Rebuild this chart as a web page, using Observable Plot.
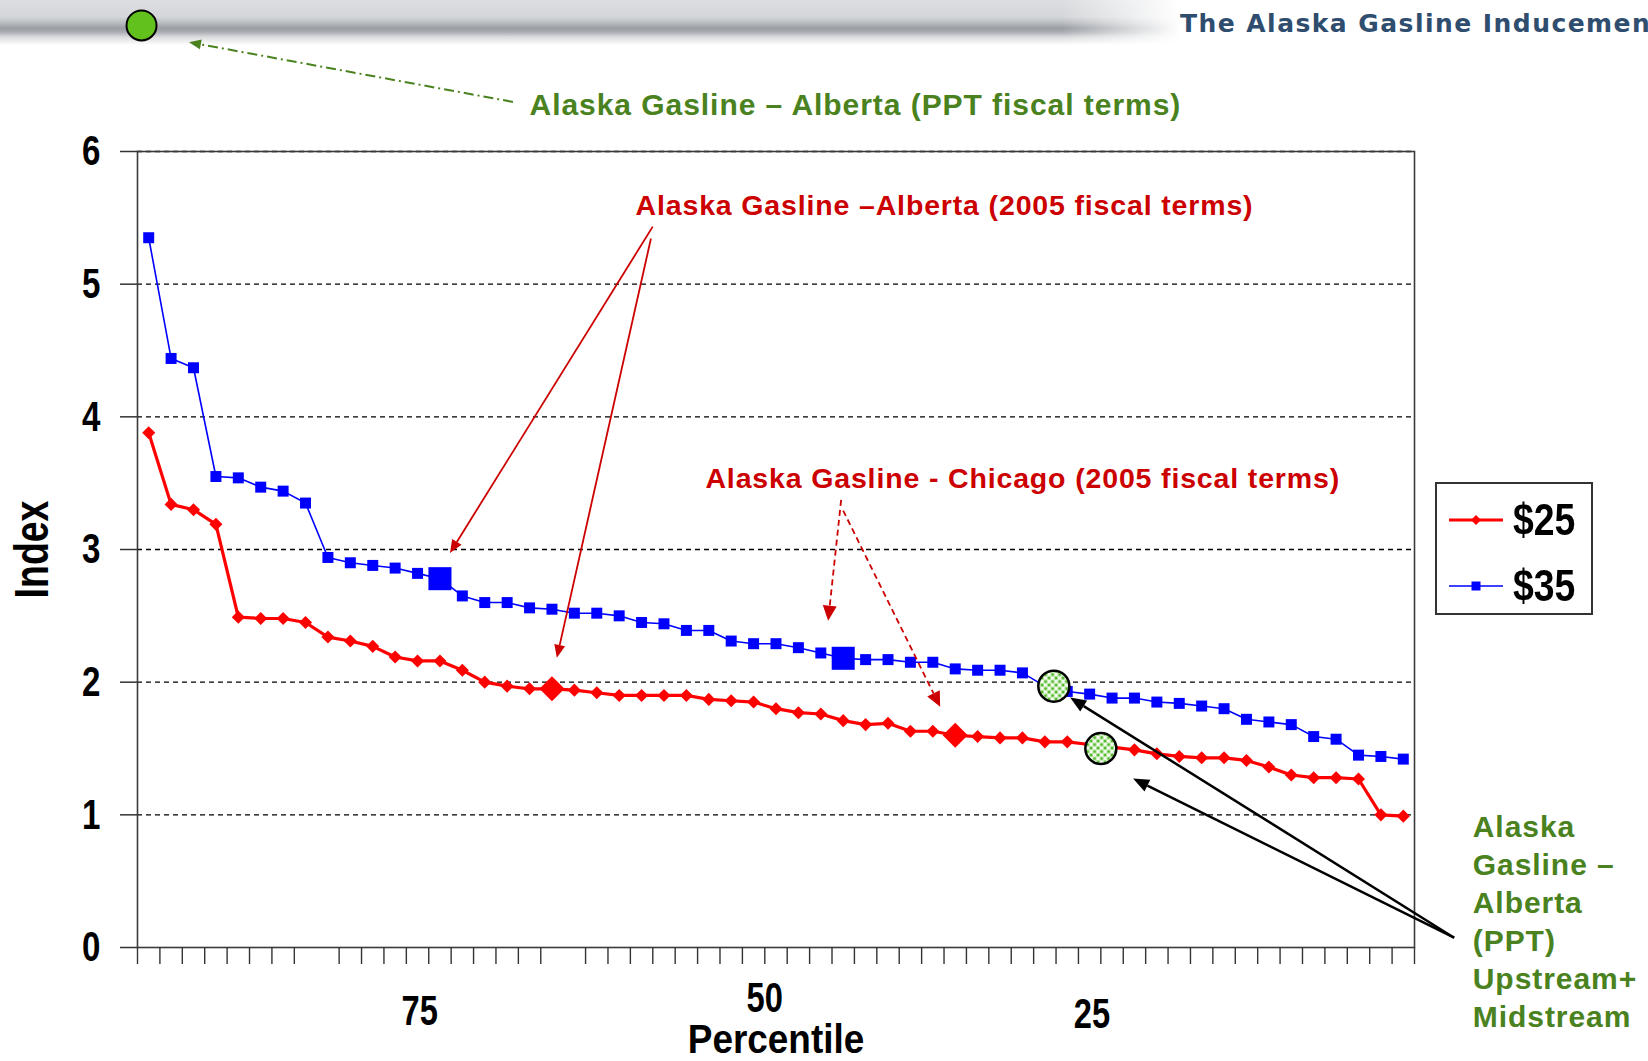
<!DOCTYPE html>
<html>
<head>
<meta charset="utf-8">
<script src="https://cdn.jsdelivr.net/npm/d3@7"></script>
<script src="https://cdn.jsdelivr.net/npm/@observablehq/plot@0.6"></script>
<style>
  html, body { margin: 0; padding: 0; background: #fff; }
  #page { position: relative; width: 1648px; height: 1061px; overflow: hidden; background: #fff; }
  #band {
    position: absolute; left: 0; top: 0; width: 1180px; height: 46px;
    background: linear-gradient(to bottom, #dcdee1 0px, #d4d6d9 17px, #b8bbc0 23px, #9b9fa5 28px, #a9adb2 32px, #d9dbdd 37px, #fff 45px);
    -webkit-mask-image: linear-gradient(to right, #000 0%, #000 90%, transparent 100%);
    mask-image: linear-gradient(to right, #000 0%, #000 90%, transparent 100%);
  }
  #logo {
    position: absolute; left: 1180px; top: 9px; white-space: nowrap;
    font: bold 25px "DejaVu Sans", sans-serif; color: #2f4d6e; letter-spacing: 1.45px;
  }
  #chart { position: absolute; left: 0; top: 0; }
  #legend {
    position: absolute; left: 1435px; top: 482px; width: 154px; height: 129px;
    border: 2px solid #333; background: #fff; box-sizing: content-box;
  }
  #legend .row { position: absolute; left: 10px; height: 50px; display: flex; align-items: center; }
  #legend .row span {
    display: inline-block; transform: scaleX(0.83); transform-origin: left center;
    font: bold 45px "Liberation Sans", Arial, sans-serif; color: #000; margin-left: 8px;
  }
  g[aria-description="red callout"] text { letter-spacing: 0.85px; }
  g[aria-description="green callout"] text { letter-spacing: 0.95px; }
</style>
</head>
<body>
<div id="page">
  <div id="band"></div>
  <div id="logo">The Alaska Gasline Inducement Act</div>
  <div id="chart"></div>
  <div id="legend"></div>
</div>
<script>
// Index by percentile rank, one value per case, sorted high to low
const seriesNames = ["$25", "$35"];
const series25 = [3.88, 3.34, 3.30, 3.19, 2.49, 2.48, 2.48, 2.45, 2.34, 2.31, 2.27, 2.19, 2.16, 2.16, 2.09,
  2.00, 1.97, 1.95, 1.95, 1.94, 1.92, 1.90, 1.90, 1.90, 1.90, 1.87, 1.86, 1.85, 1.80, 1.77, 1.76, 1.71,
  1.68, 1.69, 1.63, 1.63, 1.60, 1.59, 1.58, 1.58, 1.55, 1.55, 1.53, 1.51, 1.49, 1.46, 1.44, 1.43, 1.43,
  1.41, 1.36, 1.30, 1.28, 1.28, 1.27, 1.00, 0.99];
const series35 = [5.35, 4.44, 4.37, 3.55, 3.54, 3.47, 3.44, 3.35, 2.94, 2.90, 2.88, 2.86, 2.82, 2.78, 2.65,
  2.60, 2.60, 2.56, 2.55, 2.52, 2.52, 2.50, 2.45, 2.44, 2.39, 2.39, 2.31, 2.29, 2.29, 2.26, 2.22, 2.18,
  2.17, 2.17, 2.15, 2.15, 2.10, 2.09, 2.09, 2.07, 1.97, 1.93, 1.91, 1.88, 1.88, 1.85, 1.84, 1.82, 1.80,
  1.72, 1.70, 1.68, 1.59, 1.57, 1.45, 1.44, 1.42];

// Rank of the Alaska Gasline cases on each price curve
const alberta2005 = {"$25": 18, "$35": 13};
const chicago2005 = {"$25": 36, "$35": 31};
// Alaska Gasline – Alberta under PPT terms (upstream + midstream)
const pptRank = [40.4, 42.5];
const pptIndex = [1.97, 1.50];

const yTicks = [0, 1, 2, 3, 4, 5, 6];
const gridValues = [1, 2, 3, 4, 5, 6];
const percentileLabels = ["75", "50", "25"];

const RED = "#ff0000", BLUE = "#0000ff", DARKRED = "#cc0000", GREEN = "#4a8220";
const SANS = '"Liberation Sans", Arial, sans-serif';

const rows25 = series25.map((value, rank) => ({rank, value}));
const rows35 = series35.map((value, rank) => ({rank, value}));
// category boundaries carry the x tick marks (two are left blank on the axis)
const boundaries = d3.range(series25.length + 1).map(k => k - 0.5).filter(b => b !== 7.5 && b !== 18.5);

// dotted fill for the PPT circles
function dotPattern() {
  const defs = d3.create("svg:defs");
  const p = defs.append("pattern").attr("id", "ppt-dots").attr("patternUnits", "userSpaceOnUse")
    .attr("width", 7).attr("height", 7);
  p.append("rect").attr("width", 7).attr("height", 7).attr("fill", "#f3faee");
  p.append("rect").attr("x", 0.6).attr("y", 0.6).attr("width", 3).attr("height", 3).attr("fill", "#4fba25");
  p.append("rect").attr("x", 4.1).attr("y", 4.1).attr("width", 3).attr("height", 3).attr("fill", "#4fba25");
  return defs.node();
}

// straight callout arrows with filled triangular heads
function callouts(list, {stroke, width = 2, dash = null, head = [12, 10]}) {
  return (index, scales) => {
    const sx = typeof scales.x === "function" ? scales.x : scales.scales.x.apply;
    const sy = typeof scales.y === "function" ? scales.y : scales.scales.y.apply;
    const g = d3.create("svg:g");
    for (const a of list) {
      const x1 = sx(a.from[0]), y1 = sy(a.from[1]), x2 = sx(a.to[0]), y2 = sy(a.to[1]);
      const ang = Math.atan2(y2 - y1, x2 - x1);
      const [L, W] = head;
      const bx = x2 - L * Math.cos(ang), by = y2 - L * Math.sin(ang);
      const ox = (W / 2) * Math.sin(ang), oy = (W / 2) * Math.cos(ang);
      g.append("line").attr("x1", x1).attr("y1", y1).attr("x2", bx).attr("y2", by)
        .attr("stroke", stroke).attr("stroke-width", width)
        .attr("stroke-dasharray", dash);
      g.append("path").attr("d", `M${x2},${y2}L${bx + ox},${by - oy}L${bx - ox},${by + oy}Z`).attr("fill", stroke);
    }
    return g.node();
  };
}

// axis text is set in a condensed bold face: "narrow <horizontal scale>"
const axisText = {fontWeight: "bold", fill: "#000"};

const plot = Plot.plot({
  width: 1648,
  height: 1061,
  marginLeft: 137,
  marginRight: 234,
  marginTop: 151,
  marginBottom: 114,
  x: {domain: [-0.5, series25.length - 0.5]},
  y: {domain: [0, 6]},
  style: {background: "transparent", overflow: "visible", fontFamily: SANS},
  marks: [
    dotPattern,
    Plot.ruleY(gridValues, {stroke: "#000", strokeWidth: 1.3, strokeDasharray: "5,4"}),
    Plot.frame({stroke: "#3a3a3a", strokeWidth: 1.6}),
    Plot.axisY({ticks: yTicks, tickSize: 17, label: null, stroke: "#333", strokeWidth: 1.5, tickFormat: () => ""}),
    Plot.axisX({ticks: boundaries, tickSize: 17, label: null, stroke: "#333", strokeWidth: 1.4, tickFormat: () => ""}),
    Plot.text(yTicks, {y: d => d, frameAnchor: "left", dx: -37, textAnchor: "end", text: d => String(d),
      fontSize: 43, ...axisText, ariaDescription: "narrow 0.77"}),
    // percentile labels and axis titles
    Plot.text(percentileLabels, {x: [12.1, 27.5, 42.1], y: [-0.48, -0.38, -0.5], text: d => d,
      fontSize: 43, ...axisText, ariaDescription: "narrow 0.76"}),
    Plot.text(["Percentile"], {frameAnchor: "bottom", dy: 92, lineAnchor: "middle", textAnchor: "middle", text: d => d,
      fontSize: 41, ...axisText, ariaDescription: "narrow 0.9"}),
    Plot.text(["Index"], {frameAnchor: "left", dx: -105, rotate: -90, textAnchor: "middle", lineAnchor: "middle",
      text: d => d, fontSize: 48, ...axisText, ariaDescription: "narrow 0.78"}),

    // price curves
    Plot.line(rows35, {x: "rank", y: "value", stroke: BLUE, strokeWidth: 1.6}),
    Plot.dot(rows35, {x: "rank", y: "value", symbol: "square", r: 6.2, fill: BLUE}),
    Plot.line(rows25, {x: "rank", y: "value", stroke: RED, strokeWidth: 3.2}),
    Plot.dot(rows25, {x: "rank", y: "value", symbol: "diamond2", r: 5.9, fill: RED}),

    // Alaska Gasline 2005-terms cases, enlarged on each curve
    Plot.dot([alberta2005["$35"], chicago2005["$35"]], {x: d => d, y: d => series35[d], symbol: "square", r: 13, fill: BLUE}),
    Plot.dot([alberta2005["$25"], chicago2005["$25"]], {x: d => d, y: d => series25[d], symbol: "diamond2", r: 11.3, fill: RED}),

    // PPT cases
    Plot.dot(pptRank, {x: d => d, y: (d, i) => pptIndex[i], r: 15.5, fill: "url(#ppt-dots)", stroke: "#000", strokeWidth: 2.5}),

    // key for the PPT case
    Plot.dot([{x: -0.32, y: 6.95}], {x: "x", y: "y", r: 15, fill: "#62c11c", stroke: "#000", strokeWidth: 2}),
    callouts([{from: [16.28, 6.37], to: [1.82, 6.82]}], {stroke: GREEN, width: 2, dash: "10,4,2,4", head: [12, 10]}),
    Plot.text(["Alaska Gasline – Alberta (PPT fiscal terms)"], {x: 17.0, y: 6.35, text: d => d, textAnchor: "start",
      fill: GREEN, fontSize: 30, fontWeight: "bold", ariaDescription: "green callout"}),

    // 2005-terms callouts
    Plot.text(["Alaska Gasline –Alberta (2005 fiscal terms)"], {x: 21.73, y: 5.59, text: d => d, textAnchor: "start",
      fill: DARKRED, fontSize: 28.5, fontWeight: "bold", ariaDescription: "red callout"}),
    Plot.text(["Alaska Gasline - Chicago (2005 fiscal terms)"], {x: 24.85, y: 3.53, text: d => d, textAnchor: "start",
      fill: DARKRED, fontSize: 28.5, fontWeight: "bold", ariaDescription: "red callout"}),
    callouts([
      {from: [22.52, 5.43], to: [13.47, 2.97]},
      {from: [22.44, 5.34], to: [18.24, 2.18]}
    ], {stroke: DARKRED, width: 1.8, head: [13, 11]}),
    callouts([
      {from: [30.93, 3.37], to: [30.35, 2.46]},
      {from: [31.02, 3.29], to: [35.35, 1.81]}
    ], {stroke: DARKRED, width: 1.8, dash: "6,4", head: [15, 14]}),

    // PPT upstream + midstream callout
    callouts([
      {from: [58.29, 0.07], to: [41.15, 1.88]},
      {from: [58.29, 0.07], to: [43.96, 1.27]}
    ], {stroke: "#000", width: 2.5, head: [16, 13]}),
    Plot.text(["Alaska\nGasline –\nAlberta\n(PPT)\nUpstream+\nMidstream"], {x: 59.1, y: 0.21, text: d => d,
      textAnchor: "start", lineAnchor: "middle", lineHeight: 1.27,
      fill: GREEN, fontSize: 30, fontWeight: "bold", ariaDescription: "green callout"})
  ]
});
document.getElementById("chart").appendChild(plot);

// condense the axis lettering: squeeze each text to a fraction of its natural length
d3.select(plot).selectAll('g[aria-description^="narrow"]').each(function() {
  const s = +this.getAttribute("aria-description").split(" ")[1];
  d3.select(this).selectAll("text").each(function() {
    const w = this.getComputedTextLength();
    if (w > 0) {
      this.setAttribute("textLength", (w * s).toFixed(2));
      this.setAttribute("lengthAdjust", "spacingAndGlyphs");
    }
  });
});

// legend: line sample with marker, then the series name
const legend = d3.select("#legend");
const legendStyles = {
  "$25": {stroke: RED, width: 3, marker: "diamond"},
  "$35": {stroke: BLUE, width: 1.5, marker: "square"}
};
seriesNames.forEach((name, i) => {
  const st = legendStyles[name];
  const row = legend.append("div").attr("class", "row").style("top", `${11 + i * 66}px`);
  const svg = row.append("svg").attr("width", 58).attr("height", 20);
  svg.append("line").attr("x1", 2).attr("x2", 56).attr("y1", 10).attr("y2", 10)
    .attr("stroke", st.stroke).attr("stroke-width", st.width);
  if (st.marker === "diamond") {
    svg.append("path").attr("d", "M29,5L34,10L29,15L24,10Z").attr("fill", st.stroke);
  } else {
    svg.append("rect").attr("x", 24.5).attr("y", 5.5).attr("width", 9).attr("height", 9).attr("fill", st.stroke);
  }
  row.append("span").text(name);
});
</script>
</body>
</html>
